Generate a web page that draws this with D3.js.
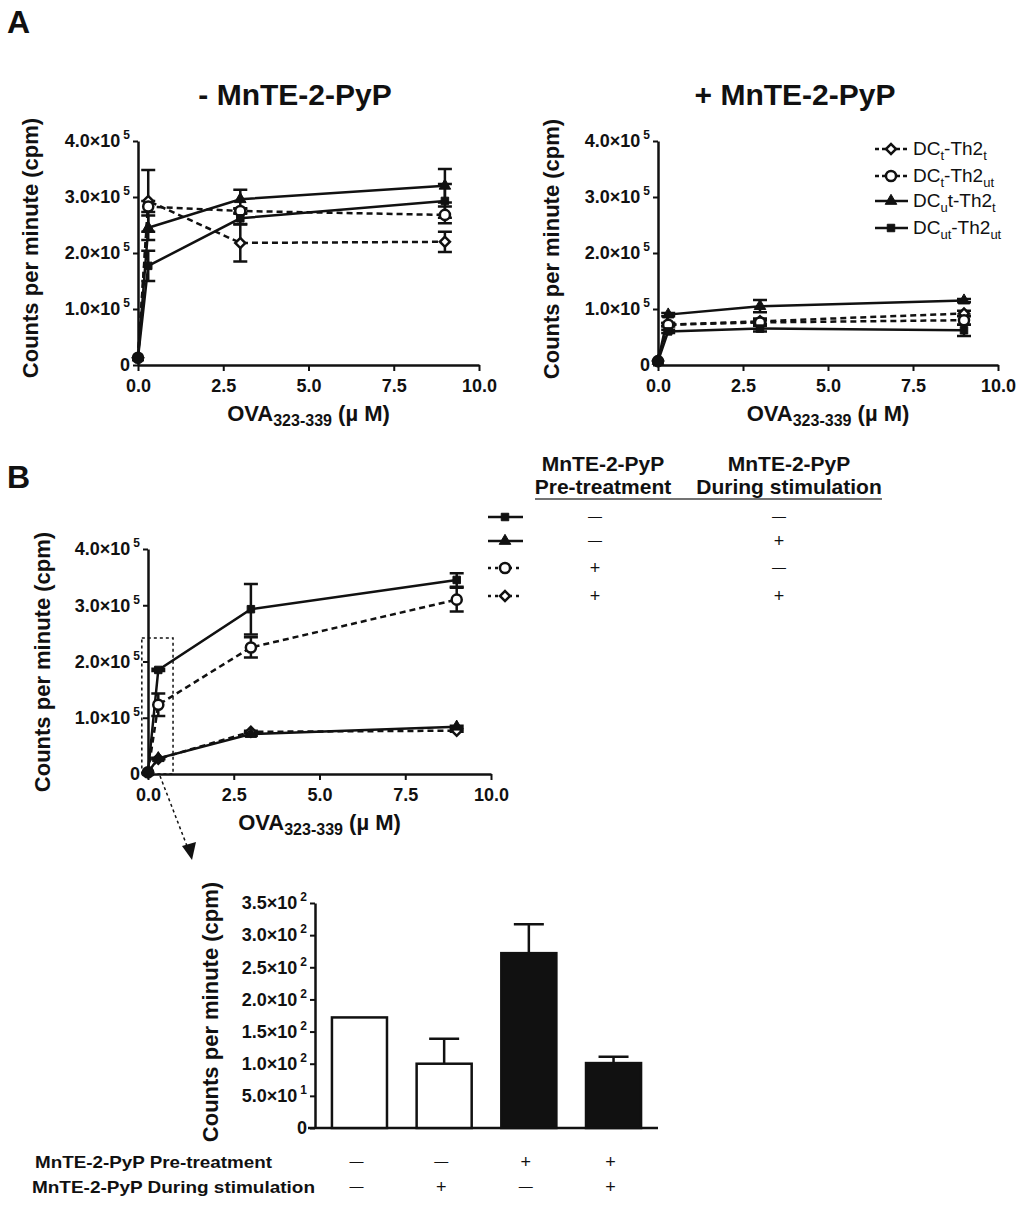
<!DOCTYPE html>
<html>
<head>
<meta charset="utf-8">
<script src="https://cdn.jsdelivr.net/npm/d3@7"></script>
<style>
body{margin:0;background:#fff}
text{font-family:"Liberation Sans",Arial,sans-serif;fill:#111}
</style>
</head>
<body>
<script>
// doses of OVA323-339 (uM)
const doses = [0, 0.3, 3, 9]
const xTicks = [0, 2.5, 5, 7.5, 10]
const yTicksLine = [0, 1e5, 2e5, 3e5, 4e5]
const yTicksBar = [0, 50, 100, 150, 200, 250, 300, 350]

// panel A, - MnTE-2-PyP (cpm) and SEM
const minusDCtTh2t = [0.13e5, 2.93e5, 2.18e5, 2.2e5]
const minusDCtTh2tErr = [0, 0.55e5, 0.33e5, 0.18e5]
const minusDCtTh2ut = [0.13e5, 2.83e5, 2.75e5, 2.68e5]
const minusDCtTh2utErr = [0, 0.1e5, 0.05e5, 0.15e5]
const minusDCutTh2t = [0.13e5, 2.45e5, 2.96e5, 3.2e5]
const minusDCutTh2tErr = [0, 0.22e5, 0.17e5, 0.3e5]
const minusDCutTh2ut = [0.13e5, 1.77e5, 2.62e5, 2.93e5]
const minusDCutTh2utErr = [0, 0.27e5, 0.1e5, 0.3e5]

// panel A, + MnTE-2-PyP
const plusDCtTh2t = [0.07e5, 0.72e5, 0.78e5, 0.92e5]
const plusDCtTh2tErr = [0, 0.03e5, 0.05e5, 0.05e5]
const plusDCtTh2ut = [0.07e5, 0.72e5, 0.76e5, 0.8e5]
const plusDCtTh2utErr = [0, 0.03e5, 0.05e5, 0.08e5]
const plusDCutTh2t = [0.07e5, 0.9e5, 1.05e5, 1.15e5]
const plusDCutTh2tErr = [0, 0.03e5, 0.11e5, 0.03e5]
const plusDCutTh2ut = [0.07e5, 0.6e5, 0.65e5, 0.62e5]
const plusDCutTh2utErr = [0, 0.03e5, 0.05e5, 0.1e5]

// panel B
const bNoneNone = [0.03e5, 1.85e5, 2.93e5, 3.45e5]
const bNoneNoneErr = [0, 0.02e5, 0.45e5, 0.12e5]
const bNoneDuring = [0.03e5, 0.28e5, 0.71e5, 0.84e5]
const bNoneDuringErr = [0, 0.01e5, 0.03e5, 0.02e5]
const bPreNone = [0.03e5, 1.23e5, 2.25e5, 3.1e5]
const bPreNoneErr = [0, 0.2e5, 0.18e5, 0.21e5]
const bPreDuring = [0.03e5, 0.27e5, 0.75e5, 0.77e5]
const bPreDuringErr = [0, 0.01e5, 0.02e5, 0.02e5]

// inset bars
const barVals = [172, 100, 272, 101]
const barErrs = [0, 39, 45, 10]
const barPre = ['-', '-', '+', '+']
const barDuring = ['-', '+', '-', '+']
const bLegendPre = ['-', '-', '+', '+']
const bLegendDuring = ['-', '+', '-', '+']

const legendA = [
    [['DC'], ['t', 1], ['-Th2'], ['t', 1]],
    [['DC'], ['t', 1], ['-Th2'], ['ut', 1]],
    [['DC'], ['u', 1], ['t-Th2'], ['t', 1]],
    [['DC'], ['ut', 1], ['-Th2'], ['ut', 1]]
]

const kinds = ['diamond', 'circle', 'triangle', 'square']
const look = {
    diamond: {dash: '6,4', fill: '#fff'},
    circle: {dash: '6,4', fill: '#fff'},
    triangle: {dash: null, fill: '#111'},
    square: {dash: null, fill: '#111'}
}

const svg = d3.select('body').append('svg').attr('width', 1024).attr('height', 1208)

//draw one marker
const marker = (sel, kind, cx, cy) => {
    let p
    if (kind === 'circle') p = d3.symbol().type(d3.symbolCircle).size(80)()
    else if (kind === 'triangle') p = d3.symbol().type(d3.symbolTriangle).size(58)()
    else p = d3.symbol().type(d3.symbolSquare).size(kind === 'diamond' ? 50 : 56)()
    sel.append('path')
       .attr('d', p)
       .attr('transform', `translate(${cx},${cy})` + (kind === 'diamond' ? ' rotate(45)' : ''))
       .attr('fill', look[kind].fill)
       .attr('stroke', '#111')
       .attr('stroke-width', kind === 'circle' || kind === 'diamond' ? 2.5 : 1)
}

//plus / long dash sign
const sign = (x, y, s) => {
    if (s === '+') svg.append('text').attr('x', x).attr('y', y + 6).attr('text-anchor', 'middle').attr('font-size', 18).text('+')
    else svg.append('text').attr('x', x).attr('y', y + 4).attr('text-anchor', 'middle').attr('font-size', 14).attr('fill', '#333').text('—')
}

//4.0x10^5 style tick text
const sci = (t, d) => {
    if (d === 0) { t.text('0'); return }
    const e = Math.floor(Math.log10(d) + 1e-9)
    const m = (d / Math.pow(10, e)).toFixed(1)
    t.text(null)
    t.append('tspan').text(m + '×10')
    t.append('tspan').attr('dx', 3).attr('dy', -8).attr('font-size', 12).text(e)
}

const styleAxis = g => {
    g.attr('font-size', 18).attr('font-family', '"Liberation Sans",Arial,sans-serif').attr('font-weight', 'bold')
    g.select('.domain').attr('stroke', '#111').attr('stroke-width', 2.5)
    g.selectAll('.tick line').attr('stroke', '#111').attr('stroke-width', 2)
    g.selectAll('.tick text').attr('fill', '#111')
}

const yLabel = (x, cy) => {
    svg.append('text')
       .attr('transform', `translate(${x},${cy}) rotate(-90)`)
       .attr('text-anchor', 'middle').attr('dy', '0.35em')
       .attr('font-size', 22).attr('font-weight', 'bold')
       .text('Counts per minute (cpm)')
}

const linePanel = (o) => {
    const x = d3.scaleLinear().domain([0, 10]).range([o.left, o.right])
    const y = d3.scaleLinear().domain([0, 4e5]).range([o.bottom, o.top])
    svg.append('g')
       .attr('transform', `translate(0,${o.bottom})`)
       .call(d3.axisBottom(x).tickValues(xTicks).tickFormat(d3.format('.1f')).tickSize(6).tickSizeOuter(0).tickPadding(8))
       .call(styleAxis)
    svg.append('g')
       .attr('transform', `translate(${o.left},0)`)
       .call(d3.axisLeft(y).tickValues(yTicksLine).tickSize(5).tickSizeOuter(0).tickPadding(3))
       .call(styleAxis)
       .selectAll('.tick text').each(function(d){ sci(d3.select(this), d) })
    yLabel(o.ylabX, o.ylabY)
    //x title
    const xt = svg.append('text').attr('x', (o.left + o.right) / 2).attr('y', o.bottom + 56)
                  .attr('text-anchor', 'middle').attr('font-size', 22).attr('font-weight', 'bold')
    xt.append('tspan').text('OVA')
    xt.append('tspan').attr('dy', 5).attr('font-size', 16).text('323-339')
    xt.append('tspan').attr('dy', -5).text(' (µ M)')

    const g = svg.append('g')
    o.series.forEach((s, i) => {
        const kind = kinds[i]
        const pts = doses.map((d, j) => ({x: d, v: s[0][j], e: s[1][j]}))
        //error bars
        pts.filter(p => p.e > 0).forEach(p => {
            const cx = x(p.x)
            g.append('path')
             .attr('d', `M${cx},${y(p.v + p.e)}V${y(p.v - p.e)}M${cx - 7},${y(p.v + p.e)}h14M${cx - 7},${y(p.v - p.e)}h14`)
             .attr('stroke', '#111').attr('stroke-width', 2.5).attr('fill', 'none')
        })
        g.append('path')
         .datum(pts)
         .attr('d', d3.line().x(p => x(p.x)).y(p => y(p.v)))
         .attr('fill', 'none').attr('stroke', '#111').attr('stroke-width', 2.5)
         .attr('stroke-dasharray', look[kind].dash)
    })
    o.series.forEach((s, i) => {
        doses.forEach((d, j) => marker(g, kinds[i], x(d), y(s[0][j])))
    })
    return {x, y}
}

// panel letters and titles
svg.append('text').attr('x', 7).attr('y', 33).attr('font-size', 32).attr('font-weight', 'bold').text('A')
svg.append('text').attr('x', 7).attr('y', 488).attr('font-size', 32).attr('font-weight', 'bold').text('B')
svg.append('text').attr('x', 295).attr('y', 105).attr('text-anchor', 'middle').attr('font-size', 30).attr('font-weight', 'bold').text('- MnTE-2-PyP')
svg.append('text').attr('x', 795).attr('y', 105).attr('text-anchor', 'middle').attr('font-size', 30).attr('font-weight', 'bold').text('+ MnTE-2-PyP')

linePanel({left: 138, right: 479, top: 141, bottom: 365, ylabX: 30, ylabY: 248, series: [
    [minusDCtTh2t, minusDCtTh2tErr], [minusDCtTh2ut, minusDCtTh2utErr],
    [minusDCutTh2t, minusDCutTh2tErr], [minusDCutTh2ut, minusDCutTh2utErr]]})
linePanel({left: 658, right: 998, top: 141, bottom: 365, ylabX: 551, ylabY: 249, series: [
    [plusDCtTh2t, plusDCtTh2tErr], [plusDCtTh2ut, plusDCtTh2utErr],
    [plusDCutTh2t, plusDCutTh2tErr], [plusDCutTh2ut, plusDCutTh2utErr]]})

// legend A
const legA = svg.append('g')
const legRows = [149, 176, 201, 228]
legendA.forEach((parts, i) => {
    const k = kinds[i], yy = legRows[i]
    legA.append('line').attr('x1', 875).attr('x2', 908).attr('y1', yy).attr('y2', yy)
        .attr('stroke', '#111').attr('stroke-width', 2.5).attr('stroke-dasharray', look[k].dash ? '4,3' : null)
    marker(legA, k, 891, yy)
    const t = legA.append('text').attr('x', 913).attr('y', yy + 6).attr('font-size', 19)
    let sub = false
    parts.forEach(p => {
        const isSub = !!p[1]
        const ts = t.append('tspan').text(p[0])
        if (isSub !== sub) ts.attr('dy', isSub ? 5 : -5)
        if (isSub) ts.attr('font-size', 13)
        sub = isSub
    })
})

// panel B
const pb = linePanel({left: 148, right: 491, top: 549, bottom: 774, ylabX: 42, ylabY: 662, series: [
    [bPreDuring, bPreDuringErr], [bPreNone, bPreNoneErr],
    [bNoneDuring, bNoneDuringErr], [bNoneNone, bNoneNoneErr]]})

// zoom box and arrow
svg.append('rect')
   .attr('x', pb.x(-0.18)).attr('y', pb.y(2.42e5))
   .attr('width', pb.x(0.73) - pb.x(-0.18)).attr('height', pb.y(0) - pb.y(2.42e5))
   .attr('fill', 'none').attr('stroke', '#111').attr('stroke-width', 1.5).attr('stroke-dasharray', '3,3')
svg.append('line').attr('x1', pb.x(0.35)).attr('y1', pb.y(0) + 2).attr('x2', 187).attr('y2', 846)
   .attr('stroke', '#111').attr('stroke-width', 1.5).attr('stroke-dasharray', '3,3')
svg.append('path').attr('d', 'M182,846 L196,842 L192,860 Z').attr('fill', '#111')

// legend table B
const tb = svg.append('g').attr('font-weight', 'bold').attr('font-size', 21)
tb.append('text').attr('x', 603).attr('y', 471).attr('text-anchor', 'middle').text('MnTE-2-PyP')
tb.append('text').attr('x', 603).attr('y', 494).attr('text-anchor', 'middle').text('Pre-treatment')
tb.append('text').attr('x', 789).attr('y', 471).attr('text-anchor', 'middle').text('MnTE-2-PyP')
tb.append('text').attr('x', 789).attr('y', 494).attr('text-anchor', 'middle').text('During stimulation')
svg.append('line').attr('x1', 535).attr('x2', 882).attr('y1', 499).attr('y2', 499).attr('stroke', '#444').attr('stroke-width', 1.5)
const bRows = [517, 541, 568, 596]
const bKinds = ['square', 'triangle', 'circle', 'diamond']
bKinds.forEach((k, i) => {
    const yy = bRows[i]
    svg.append('line').attr('x1', 488).attr('x2', 523).attr('y1', yy).attr('y2', yy)
       .attr('stroke', '#111').attr('stroke-width', 2.5).attr('stroke-dasharray', look[k].dash ? '3,4' : null)
    marker(svg, k, 505, yy)
    sign(595, yy, bLegendPre[i])
    sign(779, yy, bLegendDuring[i])
})

// inset bar chart
const xb = d3.scaleBand().domain(d3.range(barVals.length)).range([315, 658]).paddingInner(0.35).paddingOuter(0.2)
const yb = d3.scaleLinear().domain([0, 350]).range([1128, 903])
svg.append('g').attr('transform', 'translate(315,0)')
   .call(d3.axisLeft(yb).tickValues(yTicksBar).tickSize(5).tickSizeOuter(0).tickPadding(3))
   .call(styleAxis)
   .selectAll('.tick text').each(function(d){ sci(d3.select(this), d) })
svg.append('line').attr('x1', 308).attr('x2', 658).attr('y1', yb(0)).attr('y2', yb(0)).attr('stroke', '#111').attr('stroke-width', 2.5)
yLabel(210, 1012)
const bars = svg.append('g')
barVals.forEach((v, i) => {
    const cx = xb(i) + xb.bandwidth() / 2
    if (barErrs[i] > 0) {
        bars.append('path')
            .attr('d', `M${cx},${yb(v)}V${yb(v + barErrs[i])}M${cx - 15},${yb(v + barErrs[i])}h30`)
            .attr('stroke', '#111').attr('stroke-width', 2.5).attr('fill', 'none')
    }
    bars.append('rect')
        .attr('x', xb(i)).attr('y', yb(v)).attr('width', xb.bandwidth()).attr('height', yb(0) - yb(v))
        .attr('fill', i < 2 ? '#fff' : '#111').attr('stroke', '#111').attr('stroke-width', 2.5)
    sign(cx - 3, 1162, barPre[i])
    sign(cx - 3, 1187, barDuring[i])
})
svg.append('text').attr('x', 35).attr('y', 1168).attr('font-size', 17).attr('font-weight', 'bold')
   .attr('textLength', 237).attr('lengthAdjust', 'spacingAndGlyphs').text('MnTE-2-PyP Pre-treatment')
svg.append('text').attr('x', 32).attr('y', 1193).attr('font-size', 17).attr('font-weight', 'bold')
   .attr('textLength', 283).attr('lengthAdjust', 'spacingAndGlyphs').text('MnTE-2-PyP During stimulation')
</script>
</body>
</html>
